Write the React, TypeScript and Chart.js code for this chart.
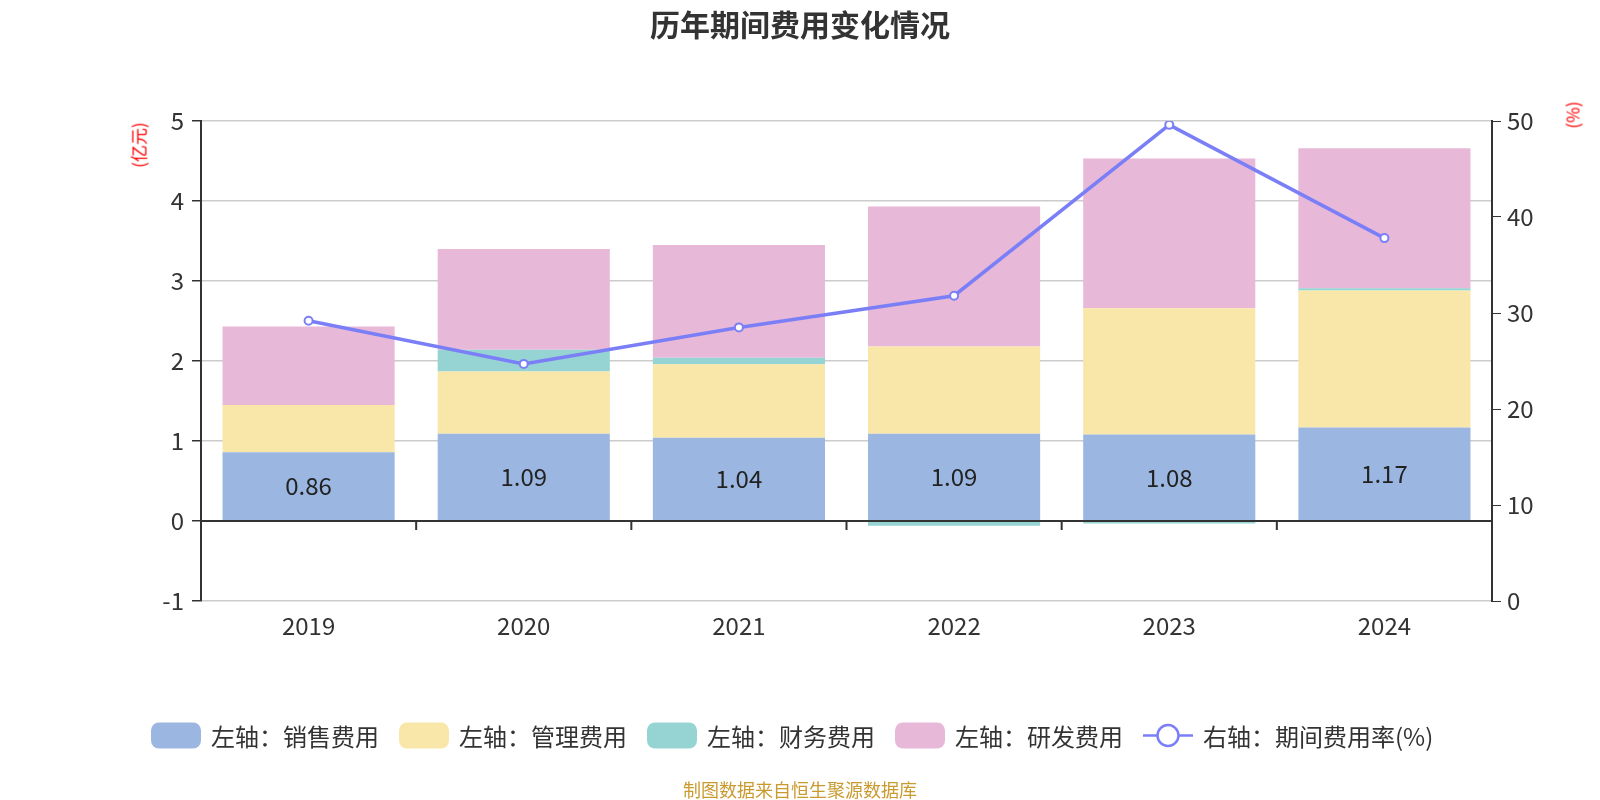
import React, { useEffect, useRef } from "react";
import { Chart, registerables } from "chart.js";

Chart.register(...registerables);

const categories = ["2019", "2020", "2021", "2022", "2023", "2024"];
const salesExp = [0.86, 1.09, 1.04, 1.09, 1.08, 1.17];
const mgmtExp = [0.59, 0.78, 0.92, 1.09, 1.58, 1.71];
const finExp = [-0.01, 0.27, 0.08, -0.06, -0.03, 0.03];
const rdExp = [0.98, 1.26, 1.41, 1.75, 1.87, 1.75];
const expenseRate = [29.2, 24.7, 28.5, 31.8, 49.6, 37.8];

const seriesNames = ["左轴：销售费用", "左轴：管理费用", "左轴：财务费用", "左轴：研发费用", "右轴：期间费用率(%)"];
const colors = ["#9bb7e1", "#f8e7a9", "#96d3d3", "#e8b8d8", "#7b7ff7"];

const FONT = '"Noto Sans CJK SC", "Noto Sans", sans-serif';

const overlayPlugin = {
  id: "overlay",
  afterDatasetsDraw(chart: any) {
    const { ctx, chartArea, scales } = chart;
    const y0 = scales.y.getPixelForValue(0);
    const xs = scales.x;
    ctx.save();
    ctx.strokeStyle = "#333";
    ctx.lineWidth = 2;
    ctx.beginPath();
    ctx.moveTo(chartArea.left, y0);
    ctx.lineTo(chartArea.right, y0);
    for (let i = 0; i < categories.length - 1; i++) {
      const bx = (xs.getPixelForValue(i) + xs.getPixelForValue(i + 1)) / 2;
      ctx.moveTo(bx, y0);
      ctx.lineTo(bx, y0 + 9);
    }
    ctx.stroke();
    const meta = chart.getDatasetMeta(0);
    ctx.fillStyle = "#222";
    ctx.font = `24px ${FONT}`;
    ctx.textAlign = "center";
    ctx.textBaseline = "middle";
    meta.data.forEach((el: any, i: number) => {
      const cy = (el.y + el.base) / 2;
      ctx.fillText(salesExp[i].toFixed(2), el.x, cy);
    });
    ctx.restore();
  },
};

export default function App() {
  const ref = useRef<HTMLCanvasElement>(null);
  useEffect(() => {
    document.body.style.margin = "0";
    const barDs = (label: string, data: number[], color: string) => ({
      type: "bar" as const,
      label,
      data,
      backgroundColor: color,
      borderWidth: 0,
      yAxisID: "y",
      stack: "s",
      order: 1,
      barPercentage: 0.8,
      categoryPercentage: 1,
    });
    const chart = new Chart(ref.current!, {
      type: "bar",
      data: {
        labels: categories,
        datasets: [
          barDs(seriesNames[0], salesExp, colors[0]),
          barDs(seriesNames[1], mgmtExp, colors[1]),
          barDs(seriesNames[2], finExp, colors[2]),
          barDs(seriesNames[3], rdExp, colors[3]),
          {
            type: "line" as const,
            label: seriesNames[4],
            data: expenseRate,
            yAxisID: "y1",
            borderColor: colors[4],
            borderWidth: 3.5,
            pointRadius: 4,
            pointBorderWidth: 2,
            pointBackgroundColor: "#fff",
            pointBorderColor: colors[4],
            tension: 0,
            order: 0,
          } as any,
        ],
      },
      options: {
        animation: false,
        responsive: true,
        maintainAspectRatio: false,
        layout: { padding: { top: 121, left: 0, right: 0, bottom: 0 } },
        plugins: {
          legend: { display: false },
          title: { display: false },
          tooltip: { enabled: false },
        },
        scales: {
          x: {
            stacked: true,
            grid: { display: false, drawTicks: false },
            border: { display: false },
            ticks: { color: "#333", font: { size: 24, family: FONT }, padding: 10 },
            afterFit: (s: any) => { s.height = 199; },
          },
          y: {
            type: "linear",
            position: "left",
            stacked: true,
            min: -1,
            max: 5,
            ticks: { stepSize: 1, color: "#333", font: { size: 24, family: FONT }, padding: 8 },
            grid: {
              color: (c: any) => (c.tick && c.tick.value === 0 ? "rgba(0,0,0,0)" : "#ccc"),
              lineWidth: 1.5,
              tickColor: "#333",
              tickLength: 9,
            },
            border: { display: true, color: "#333", width: 2 },
            afterFit: (s: any) => { s.width = 201; },
          },
          y1: {
            type: "linear",
            position: "right",
            min: 0,
            max: 50,
            ticks: { stepSize: 10, color: "#333", font: { size: 24, family: FONT }, padding: 6 },
            grid: { drawOnChartArea: false, tickColor: "#333", tickLength: 9 },
            border: { display: true, color: "#333", width: 2 },
            afterFit: (s: any) => { s.width = 108; },
          },
        },
      },
      plugins: [overlayPlugin],
    });
    return () => chart.destroy();
  }, []);

  const legendItems = seriesNames.map((name, i) => (
    <div key={name} style={{ display: "flex", alignItems: "center", marginRight: i < 4 ? 20 : 0 }}>
      {i < 4 ? (
        <div style={{ width: 50, height: 26, borderRadius: 8, background: colors[i] }} />
      ) : (
        <svg width={50} height={26} viewBox="0 0 50 26">
          <line x1={0} y1={13} x2={50} y2={13} stroke={colors[4]} strokeWidth={2.5} />
          <circle cx={25} cy={13} r={10.5} fill="#fff" stroke={colors[4]} strokeWidth={2.5} />
        </svg>
      )}
      <span style={{ marginLeft: 10, fontSize: 24, color: "#333", fontFamily: FONT, whiteSpace: "nowrap" }}>{name}</span>
    </div>
  ));

  return (
    <div style={{ position: "absolute", left: 0, top: 0, width: 1600, height: 800, background: "#fff", fontFamily: FONT }}>
      <canvas ref={ref} style={{ position: "absolute", left: 0, top: 0 }} />
      <div style={{ position: "absolute", left: 0, width: 1600, top: 23, transform: "translateY(-50%)", textAlign: "center", fontSize: 30, fontWeight: "bold", color: "#333", lineHeight: 1 }}>
        历年期间费用变化情况
      </div>
      <div style={{ position: "absolute", left: 138, top: 145, transform: "translate(-50%,-50%) rotate(-90deg)", fontSize: 17, color: "#ff0000", whiteSpace: "nowrap", lineHeight: 1 }}>
        (亿元)
      </div>
      <div style={{ position: "absolute", left: 1572, top: 115, transform: "translate(-50%,-50%) rotate(-90deg)", fontSize: 17, color: "#ff0000", whiteSpace: "nowrap", lineHeight: 1 }}>
        (%)
      </div>
      <div style={{ position: "absolute", left: 151, top: 735, transform: "translateY(-50%)", display: "flex", alignItems: "center" }}>
        {legendItems}
      </div>
      <div style={{ position: "absolute", left: 0, width: 1600, top: 789, transform: "translateY(-50%)", textAlign: "center", fontSize: 18, color: "#c99a2e", lineHeight: 1 }}>
        制图数据来自恒生聚源数据库
      </div>
    </div>
  );
}
